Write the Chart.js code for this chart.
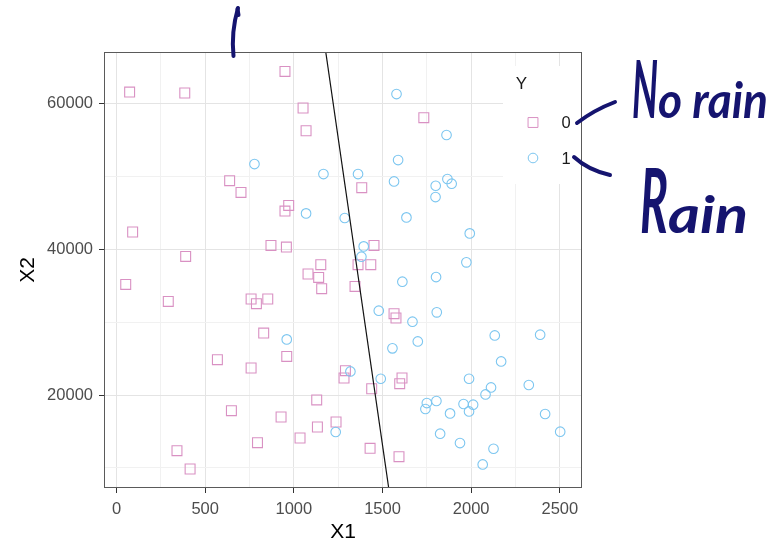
<!DOCTYPE html>
<html>
<head>
<meta charset="utf-8">
<script src="https://cdn.jsdelivr.net/npm/chart.js@4"></script>
<style>
  html, body { margin: 0; padding: 0; background: #ffffff; }
  #c { display: block; }
</style>
</head>
<body>
<canvas id="c" width="774" height="542"></canvas>
<script>
// ---------- data ----------
// Y = 0 ("No rain"), squares
const noRainX1 = [950, 74, 385, 1052, 1069, 638, 702, 971, 950, 91, 871, 958, 390, 1152,
  1733, 1383, 1452, 1362, 1434, 1345, 52, 1080, 1140, 1157, 292, 759, 789, 853, 830, 960,
  569, 759, 1291, 1283, 1129, 648, 928, 1133, 1238, 1035, 795, 341, 415, 1565, 1576, 1610,
  1597, 1439, 1430, 1593];
const noRainX2 = [64330, 61500, 61370, 59315, 56200, 49360, 47750, 45970, 45200, 42330, 40490, 40270, 38990, 37850,
  57990, 48400, 40490, 37850, 37850, 34880, 35150, 36580, 36110, 34560, 32820, 33150, 32510, 33150, 28490, 25290,
  24840, 23700, 23330, 22330, 19320, 17850, 16990, 15620, 16300, 14110, 13470, 12370, 9860, 31140, 30550, 22330,
  21550, 20860, 12690, 11550];
// Y = 1 ("Rain"), circles
const rainX1 = [778, 1167, 1069, 1287, 1579, 1861, 1588, 1362, 1565, 1800, 1866, 1890, 1799, 1635,
  1992, 1394, 1381, 1973, 960, 1236, 1612, 1802, 1479, 1806, 1669, 1699, 1556, 2133, 2389, 2169,
  1319, 1490, 1988, 2112, 2325, 2081, 1750, 1804, 1742, 1957, 2011, 1988, 1881, 2417, 1825, 2502,
  1937, 2126, 2065];
const rainX2 = [51640, 50270, 44880, 44250, 61230, 55620, 52190, 50270, 49260, 48670, 49590, 48950, 47120, 44330,
  42140, 40360, 38950, 38170, 27620, 14930, 35520, 36160, 31550, 31320, 30040, 27340, 26390, 28160, 28260, 24600,
  23230, 22230, 22230, 21040, 21370, 20080, 18900, 19180, 18080, 18770, 18670, 17750, 17480, 17400, 14700, 14970,
  13420, 12640, 10490];
// decision boundary: two points read on the panel edges
const boundaryX1 = [1180, 1535];
const boundaryX2 = [66990, 7260];

// axes
const xTickValues = [0, 250, 500, 750, 1000, 1250, 1500, 1750, 2000, 2250, 2500];
const yTickValues = [10000, 20000, 30000, 40000, 50000, 60000];
const xMajorStep = 500;
const yMajorStep = 20000;
const xLimits = [-70.5, 2625];
const yLimits = [7260, 66990];

const legendTitle = 'Y';
const legendLabels = ['0', '1'];
const noteLabels = ['No rain', 'Rain'];

// ---------- styles ----------
const PINK = '#d991c3';
const BLUE = '#7cc6f0';
const INK = '#15146f';
const FONT = '"Liberation Sans", Arial, sans-serif';

const toPts = (xs, ys) => xs.map((x, i) => ({ x: x, y: ys[i] }));

const panelPlugin = {
  id: 'panel',
  afterDatasetsDraw(chart) {
    const ctx = chart.ctx;
    const a = chart.chartArea;
    ctx.save();
    // legend background inside the panel
    const lx = a.right - 79, ly = a.top + 14, lw = 79, lh = 118;
    ctx.fillStyle = '#ffffff';
    ctx.fillRect(lx, ly, lw, lh);
    // panel border
    ctx.strokeStyle = '#5a5a5a';
    ctx.lineWidth = 1;
    ctx.strokeRect(Math.round(a.left) + 0.5, Math.round(a.top) + 0.5,
      Math.round(a.right - a.left) - 1, Math.round(a.bottom - a.top) - 1);
    // legend contents
    ctx.fillStyle = '#1a1a1a';
    ctx.textBaseline = 'middle';
    ctx.textAlign = 'center';
    ctx.font = '17px ' + FONT;
    ctx.fillText(legendTitle, lx + 18.5, ly + 18.5);
    const ds = chart.data.datasets;
    const rows = [ly + 56.5, ly + 92];
    [1, 2].forEach((di, k) => {
      const d = ds[di];
      ctx.fillStyle = 'rgba(0,0,0,0)';
      ctx.strokeStyle = d.borderColor;
      ctx.lineWidth = 1;
      Chart.helpers.drawPoint(ctx, {
        pointStyle: d.pointStyle, radius: d.pointRadius, borderWidth: 1, rotation: 0
      }, lx + 30, rows[k]);
      ctx.fillStyle = '#1a1a1a';
      ctx.font = '16.5px ' + FONT;
      ctx.fillText(legendLabels[k], lx + 63, rows[k] + 1);
    });
    ctx.restore();
  },
  afterDraw(chart) {
    const ctx = chart.ctx;
    const a = chart.chartArea;
    ctx.save();
    ctx.strokeStyle = INK;
    ctx.fillStyle = INK;
    ctx.lineCap = 'round';
    ctx.lineJoin = 'round';
    ctx.lineWidth = 4;
    // connectors from the legend labels to the notes
    ctx.beginPath();
    ctx.moveTo(a.right - 5, a.top + 71);
    ctx.quadraticCurveTo(a.right + 12, a.top + 58, a.right + 33, a.top + 50);
    ctx.stroke();
    ctx.beginPath();
    ctx.moveTo(a.right - 8, a.top + 105);
    ctx.quadraticCurveTo(a.right + 6, a.top + 118, a.right + 28, a.top + 123);
    ctx.stroke();
    // stroke at the top of the panel
    ctx.beginPath();
    ctx.moveTo(a.left + 134, a.top - 44);
    ctx.quadraticCurveTo(a.left + 127, a.top - 20, a.left + 129.5, a.top + 4);
    ctx.stroke();
    ctx.beginPath();
    ctx.moveTo(a.left + 133.5, a.top - 43);
    ctx.lineTo(a.left + 134.5, a.top - 37);
    ctx.stroke();

    // handwritten-looking notes: capital tall, rest smaller, squeezed horizontally
    function note(text, x, base, capPx, lowPx, capW, restW) {
      const cap = text.charAt(0), rest = text.slice(1);
      const f1 = 'italic 700 ' + capPx + 'px Lato, "DejaVu Sans", sans-serif';
      const f2 = 'italic 700 ' + lowPx + 'px Lato, "DejaVu Sans", sans-serif';
      ctx.textBaseline = 'alphabetic';
      ctx.textAlign = 'left';
      ctx.font = f1;
      let w1 = ctx.measureText(cap).width;
      ctx.save();
      ctx.translate(x, base);
      ctx.scale(capW / w1, 1);
      ctx.fillText(cap, 0, 0);
      ctx.restore();
      ctx.font = f2;
      let w2 = ctx.measureText(rest).width;
      ctx.save();
      ctx.translate(x + capW, base);
      ctx.scale(restW / w2, 1);
      ctx.fillText(rest, 0, 0);
      ctx.restore();
    }
    note(noteLabels[0], a.right + 50, a.top + 66, 80, 50, 26, 110);
    note(noteLabels[1], a.right + 58, a.top + 181, 90, 52, 28, 80);
    ctx.restore();
  }
};

new Chart(document.getElementById('c'), {
  type: 'scatter',
  data: {
    datasets: [
      {
        type: 'line',
        label: 'boundary',
        data: toPts(boundaryX1, boundaryX2),
        borderColor: '#111111',
        borderWidth: 1.2,
        pointRadius: 0,
        fill: false,
        order: 0
      },
      {
        label: legendLabels[0],
        data: toPts(noRainX1, noRainX2),
        pointStyle: 'rect',
        pointRadius: 7,
        borderColor: PINK,
        backgroundColor: 'rgba(0,0,0,0)',
        borderWidth: 1.1,
        order: 2
      },
      {
        label: legendLabels[1],
        data: toPts(rainX1, rainX2),
        pointStyle: 'circle',
        pointRadius: 4.8,
        borderColor: BLUE,
        backgroundColor: 'rgba(0,0,0,0)',
        borderWidth: 1.1,
        order: 1
      }
    ]
  },
  options: {
    responsive: false,
    animation: false,
    devicePixelRatio: 1,
    layout: { padding: { top: 52, right: 192, left: 0, bottom: 0 } },
    plugins: { legend: { display: false }, tooltip: { enabled: false } },
    scales: {
      x: {
        type: 'linear',
        min: xLimits[0],
        max: xLimits[1],
        afterBuildTicks: s => { s.ticks = xTickValues.map(v => ({ value: v })); },
        afterFit: s => { s.height = 54; },
        border: { display: false },
        grid: {
          color: c => (c.tick && c.tick.value % xMajorStep === 0) ? '#e4e4e4' : '#f1f1f1',
          tickColor: c => (c.tick && c.tick.value % xMajorStep === 0) ? '#333333' : 'rgba(0,0,0,0)',
          tickLength: 5,
          lineWidth: 1
        },
        ticks: {
          autoSkip: false,
          maxRotation: 0,
          padding: 7,
          color: '#4d4d4d',
          font: { family: FONT, size: 16.5 },
          callback: v => (v % xMajorStep === 0 ? String(v) : '')
        },
        title: {
          display: true,
          text: 'X1',
          color: '#000000',
          font: { family: FONT, size: 21, lineHeight: 1 },
          padding: { top: 0, bottom: -1 }
        }
      },
      y: {
        type: 'linear',
        min: yLimits[0],
        max: yLimits[1],
        afterBuildTicks: s => { s.ticks = yTickValues.map(v => ({ value: v })); },
        afterFit: s => { s.width = 104; },
        border: { display: false },
        grid: {
          color: c => (c.tick && c.tick.value % yMajorStep === 0) ? '#e4e4e4' : '#f1f1f1',
          tickColor: c => (c.tick && c.tick.value % yMajorStep === 0) ? '#333333' : 'rgba(0,0,0,0)',
          tickLength: 5,
          lineWidth: 1
        },
        ticks: {
          autoSkip: false,
          padding: 6,
          color: '#4d4d4d',
          font: { family: FONT, size: 16.5 },
          callback: v => (v % yMajorStep === 0 ? String(v) : '')
        },
        title: {
          display: true,
          text: 'X2',
          color: '#000000',
          font: { family: FONT, size: 21, lineHeight: 1 },
          padding: { top: 18, bottom: 0 }
        }
      }
    }
  },
  plugins: [panelPlugin]
});
</script>
</body>
</html>
